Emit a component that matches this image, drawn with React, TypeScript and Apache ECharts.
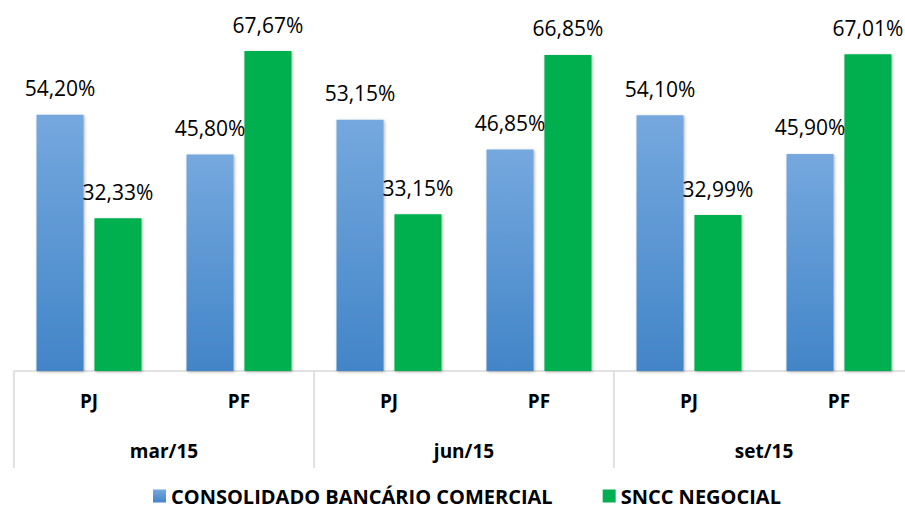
import React, { useEffect, useRef } from "react";
import * as echarts from "echarts";

const subCategories = ["PJ", "PF", "PJ", "PF", "PJ", "PF"];
const periods = ["mar/15", "jun/15", "set/15"];
const seriesNames = ["CONSOLIDADO BANCÁRIO COMERCIAL", "SNCC NEGOCIAL"];
const consolidado = [54.2, 45.8, 53.15, 46.85, 54.1, 45.9];
const sncc = [32.33, 67.67, 33.15, 66.85, 32.99, 67.01];

const FONT = "'Open Sans', 'Noto Sans', sans-serif";

const fmt = (v: number) => v.toFixed(2).replace(".", ",") + "%";

export default function App() {
  const ref = useRef<HTMLDivElement>(null);
  useEffect(() => {
    if (!ref.current) return;
    const chart = echarts.init(ref.current, null, { renderer: "svg" });
    const label = {
      show: true,
      position: "top",
      distance: 16,
      fontFamily: FONT,
      fontSize: 21,
      color: "#000",
      formatter: (p: any) => fmt(p.value),
    };
    chart.setOption({
      animation: false,
      backgroundColor: "#fff",
      grid: { left: 14, top: 40, right: -9, bottom: 137, containLabel: false, outerBoundsMode: "none" },
      legend: {
        top: 485,
        left: 153,
        padding: 0,
        itemWidth: 13,
        itemHeight: 13,
        itemGap: 50,
        icon: "rect",
        textStyle: { fontFamily: FONT, fontSize: 20, lineHeight: 22, fontWeight: "bold", color: "#000" },
        data: seriesNames,
      },
      xAxis: [
        {
          type: "category",
          data: subCategories,
          position: "bottom",
          axisLine: { show: true, lineStyle: { color: "#d9d9d9", width: 1.5 } },
          axisTick: { show: false },
          axisLabel: { margin: 20, fontFamily: FONT, fontSize: 19, fontWeight: "bold", color: "#000" },
        },
        {
          type: "category",
          data: periods,
          position: "bottom",
          axisLine: { show: false },
          axisTick: { show: true, length: 97, interval: 0, lineStyle: { color: "#d9d9d9", width: 1.5 } },
          axisLabel: { margin: 70, fontFamily: FONT, fontSize: 19, fontWeight: "bold", color: "#000" },
        },
      ],
      yAxis: { type: "value", min: 0, max: 70, show: false, splitLine: { show: false } },
      series: [
        {
          name: seriesNames[0],
          type: "bar",
          data: consolidado,
          barGap: "23%",
          barCategoryGap: "30%",
          itemStyle: {
            color: new echarts.graphic.LinearGradient(0, 0, 0, 1, [
              { offset: 0, color: "#75a8de" },
              { offset: 1, color: "#4285c8" },
            ]),
            shadowBlur: 3,
            shadowColor: "rgba(0,0,0,0.3)",
            shadowOffsetX: 1,
            shadowOffsetY: 1,
          },
          label,
        },
        {
          name: seriesNames[1],
          type: "bar",
          data: sncc,
          itemStyle: {
            color: "#00b050",
            shadowBlur: 3,
            shadowColor: "rgba(0,0,0,0.3)",
            shadowOffsetX: 1,
            shadowOffsetY: 1,
          },
          label,
        },
      ],
    });
    return () => chart.dispose();
  }, []);
  return <div ref={ref} style={{ width: 905, height: 508, position: "absolute", left: 0, top: 0 }} />;
}
